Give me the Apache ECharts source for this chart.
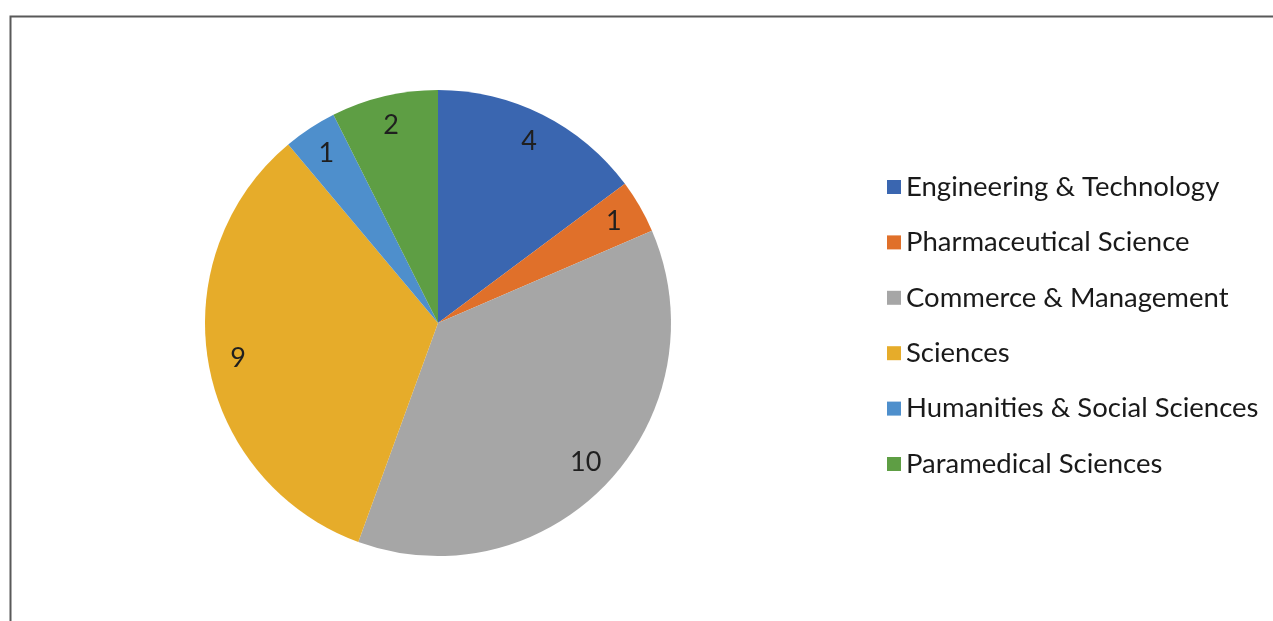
<!DOCTYPE html>
<html>
<head>
<meta charset="utf-8">
<script src="https://cdn.jsdelivr.net/npm/echarts@6/dist/echarts.min.js"></script>
<style>
html,body{margin:0;padding:0;background:#fff;}
#c{width:1273px;height:621px;}
</style>
</head>
<body>
<div id="c"></div>
<script>
const categories = ["Engineering & Technology","Pharmaceutical Science","Commerce & Management","Sciences","Humanities & Social Sciences","Paramedical Sciences"];
const values = [4, 1, 10, 9, 1, 2];
const colors = ["#3A66B0","#E0702A","#A6A6A6","#E6AC2A","#4E8FCC","#5E9E44"];

const data = categories.map((n, i) => ({ name: n, value: values[i], itemStyle: { color: colors[i] } }));
const FONT = "Lato";
const chart = echarts.init(document.getElementById('c'));
chart.setOption({
  animation: false,
  backgroundColor: '#ffffff',
  graphic: [{
    type: 'rect', left: 8, top: 14, silent: true,
    shape: { x: 0, y: 0, width: 1400, height: 800 },
    style: { fill: 'none', stroke: '#595959', lineWidth: 2 }
  }],
  legend: {
    orient: 'vertical',
    left: 882, top: 168,
    icon: 'rect', itemWidth: 14, itemHeight: 14,
    itemGap: 27.4,
    itemStyle: { borderWidth: 0 },
    data: categories,
    textStyle: { fontFamily: FONT, fontSize: 27.5, color: '#1a1a1a', lineHeight: 24 }
  },
  series: [{
    type: 'pie',
    center: [438, 323],
    radius: 233,
    startAngle: 90,
    clockwise: true,
    data: data,
    label: { show: false },
    labelLine: { show: false },
    itemStyle: { borderWidth: 0 },
    silent: true
  }, {
    type: 'pie',
    center: [438, 323],
    radius: [167, 233],
    startAngle: 90,
    clockwise: true,
    data: categories.map((n, i) => ({ name: n, value: values[i] })),
    itemStyle: { color: 'rgba(0,0,0,0)', borderWidth: 0 },
    label: { show: true, position: 'inside', formatter: '{c}', fontFamily: FONT, fontSize: 27, color: '#1f1f1f' },
    labelLine: { show: false },
    legendHoverLink: false,
    silent: true
  }]
});
</script>
</body>
</html>
